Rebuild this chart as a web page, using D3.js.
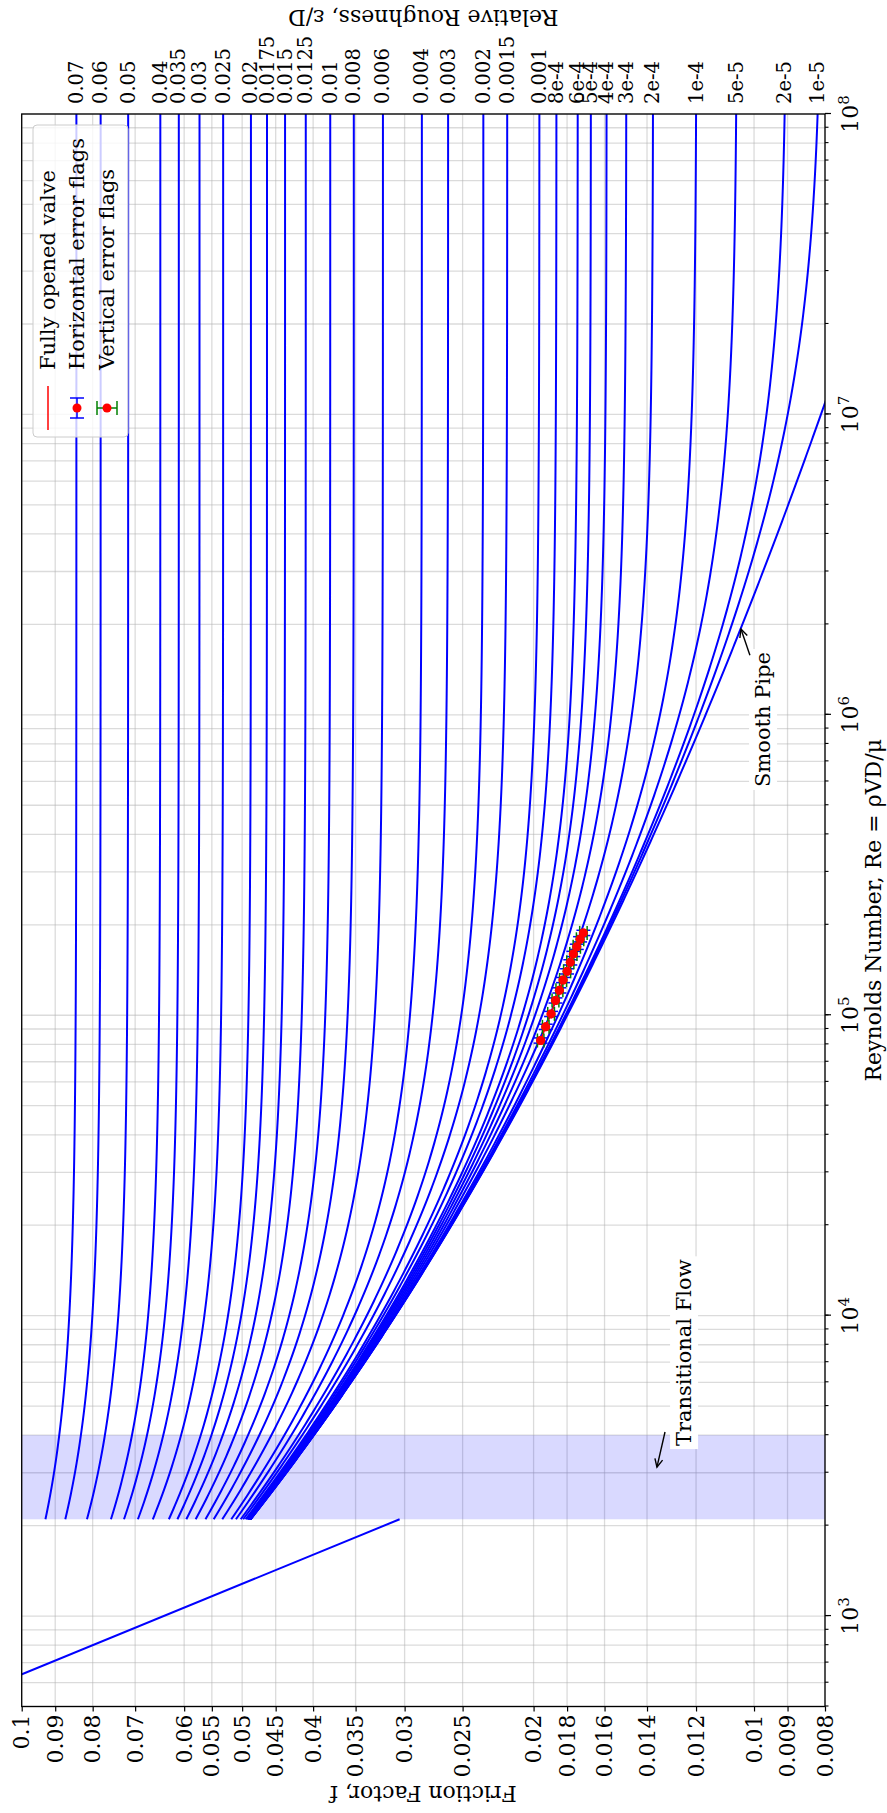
<!DOCTYPE html>
<html>
<head>
<meta charset="utf-8">
<script src="https://cdn.jsdelivr.net/npm/d3@7"></script>
<style>
  html, body { margin: 0; padding: 0; background: #fff; }
  svg { display: block; }
  text { font-family: "DejaVu Serif", serif; fill: #000; }
</style>
</head>
<body>
<svg id="chart" width="887" height="1813"></svg>
<script>
// Relative roughness (ε/D) of each Colebrook curve, and the labels shown beside them
const roughness = [0.07, 0.06, 0.05, 0.04, 0.035, 0.03, 0.025, 0.02, 0.0175, 0.015, 0.0125,
  0.01, 0.008, 0.006, 0.004, 0.003, 0.002, 0.0015, 0.001, 8e-4, 6e-4, 5e-4, 4e-4, 3e-4,
  2e-4, 1e-4, 5e-5, 2e-5, 1e-5];
const roughnessLabels = ["0.07", "0.06", "0.05", "0.04", "0.035", "0.03", "0.025", "0.02",
  "0.0175", "0.015", "0.0125", "0.01", "0.008", "0.006", "0.004", "0.003", "0.002", "0.0015",
  "0.001", "8e-4", "6e-4", "5e-4", "4e-4", "3e-4", "2e-4", "1e-4", "5e-5", "2e-5", "1e-5"];

// Friction factor axis ticks
const frictionTicks = [0.1, 0.09, 0.08, 0.07, 0.06, 0.055, 0.05, 0.045, 0.04, 0.035, 0.03,
  0.025, 0.02, 0.018, 0.016, 0.014, 0.012, 0.01, 0.009, 0.008];
const frictionTickLabels = ["0.1", "0.09", "0.08", "0.07", "0.06", "0.055", "0.05", "0.045",
  "0.04", "0.035", "0.03", "0.025", "0.02", "0.018", "0.016", "0.014", "0.012", "0.01",
  "0.009", "0.008"];

// Reynolds number decades and their exponents
const reynoldsMajor = [1e3, 1e4, 1e5, 1e6, 1e7, 1e8];
const reynoldsExponents = ["3", "4", "5", "6", "7", "8"];
const reynoldsDomain = [500, 1e8];
const frictionDomain = [0.008, 0.1];

// Flow regime limits
const laminarEnd = 2100;
const transitionEnd = 4000;

// Measured points for the fully opened valve
const testRe = [188000, 179000, 169000, 160000, 150000, 140000, 131000, 121000, 112000, 101000, 91500, 82400];
const testF = [0.01710, 0.01728, 0.01746, 0.01765, 0.01782, 0.01800, 0.01823, 0.01844, 0.01867, 0.01893, 0.01925, 0.01956];
const testReErr = [3800, 3600, 3400, 3200, 3000, 2800, 2600, 2400, 2200, 2000, 1850, 1650];
const testFErr = [0.0002, 0.0002, 0.0002, 0.0002, 0.0002, 0.0002, 0.0002, 0.0002, 0.0002, 0.0002, 0.0002, 0.0002];

// Annotations: target point and text anchor, in data units
const smoothNote = { text: "Smooth Pipe", target: [1.93e6, 0.01042], tail: [1.58e6, 0.01013], textAt: [5.75e5, 0.00972] };
const transitionNote = { text: "Transitional Flow", target: [3130, 0.01357], tail: [4100, 0.01323], textAt: [3680, 0.01246] };

// ---------------------------------------------------------------------------
const svg = d3.select("#chart");
svg.append("rect").attr("width", 887).attr("height", 1813).attr("fill", "#fff");

// The figure is laid out landscape (1813 x 887) and turned a quarter turn
const frame = svg.append("g").attr("transform", "translate(0,1813) rotate(-90)");

const plot = { left: 106.5, right: 1699, top: 21.7, bottom: 825 };
const x = d3.scaleLog().domain(reynoldsDomain).range([plot.left, plot.right]);
const y = d3.scaleLog().domain(frictionDomain).range([plot.bottom, plot.top]);

frame.append("defs").append("clipPath").attr("id", "plot-clip")
  .append("rect")
  .attr("x", plot.left).attr("y", plot.top)
  .attr("width", plot.right - plot.left).attr("height", plot.bottom - plot.top);

// Colebrook–White friction factor
function colebrook(eps, Re) {
  let inv = 8;
  for (let i = 0; i < 80; i++) inv = -2 * Math.log10(eps / 3.7 + 2.51 * inv / Re);
  return 1 / (inv * inv);
}

// Grid
const grid = frame.append("g");
const reGrid = x.ticks();
grid.selectAll("line.vx").data(reGrid).join("line")
  .attr("x1", d => x(d)).attr("x2", d => x(d))
  .attr("y1", plot.top).attr("y2", plot.bottom)
  .attr("stroke", "#b0b0b0").attr("stroke-opacity", 0.45).attr("stroke-width", 1.3);
grid.selectAll("line.hy").data(frictionTicks).join("line")
  .attr("x1", plot.left).attr("x2", plot.right)
  .attr("y1", d => y(d)).attr("y2", d => y(d))
  .attr("stroke", "#b0b0b0").attr("stroke-opacity", 0.45).attr("stroke-width", 1.3);

// Transitional band
frame.append("rect")
  .attr("x", x(laminarEnd)).attr("y", plot.top)
  .attr("width", x(transitionEnd) - x(laminarEnd)).attr("height", plot.bottom - plot.top)
  .attr("fill", "#0000ff").attr("fill-opacity", 0.15);

const curves = frame.append("g").attr("clip-path", "url(#plot-clip)");
const line = d3.line().x(d => x(d[0])).y(d => y(d[1]));

// Laminar line f = 64/Re
const laminarRe = [reynoldsDomain[0], laminarEnd];
curves.append("path")
  .attr("d", line(laminarRe.map(r => [r, 64 / r])))
  .attr("fill", "none").attr("stroke", "#0000ff").attr("stroke-width", 2);

// Turbulent curves
const reSamples = d3.range(0, 401).map(i => laminarEnd * Math.pow(reynoldsDomain[1] / laminarEnd, i / 400));
[0].concat(roughness).forEach(eps => {
  curves.append("path")
    .attr("d", line(reSamples.map(r => [r, colebrook(eps, r)])))
    .attr("fill", "none").attr("stroke", "#0000ff").attr("stroke-width", 2);
});

// Measured data
const meas = frame.append("g");
const pts = testRe.map((r, i) => ({ re: r, f: testF[i], re_e: testReErr[i], f_e: testFErr[i] }));
meas.append("path")
  .attr("d", line(pts.map(p => [p.re, p.f])))
  .attr("fill", "none").attr("stroke", "#ff0000").attr("stroke-width", 1.5);

const cap = 7;
const dotR = 4.5;
pts.forEach(p => {
  const cy = y(p.f);
  const x0 = x(p.re - p.re_e), x1 = x(p.re + p.re_e);
  meas.append("line").attr("x1", x0).attr("x2", x1).attr("y1", cy).attr("y2", cy).attr("stroke", "#0000ff").attr("stroke-width", 1.5);
  [x0, x1].forEach(v => meas.append("line").attr("x1", v).attr("x2", v).attr("y1", cy - cap).attr("y2", cy + cap).attr("stroke", "#0000ff").attr("stroke-width", 1.5));
});
pts.forEach(p => meas.append("circle").attr("cx", x(p.re)).attr("cy", y(p.f)).attr("r", dotR).attr("fill", "#ff0000"));
pts.forEach(p => {
  const cx = x(p.re);
  const y0 = y(p.f + p.f_e), y1 = y(p.f - p.f_e);
  meas.append("line").attr("x1", cx).attr("x2", cx).attr("y1", y0).attr("y2", y1).attr("stroke", "#008000").attr("stroke-width", 1.5);
  [y0, y1].forEach(v => meas.append("line").attr("x1", cx - cap).attr("x2", cx + cap).attr("y1", v).attr("y2", v).attr("stroke", "#008000").attr("stroke-width", 1.5));
});
pts.forEach(p => meas.append("circle").attr("cx", x(p.re)).attr("cy", y(p.f)).attr("r", dotR).attr("fill", "#ff0000"));

// Annotations
function annotate(note) {
  const g = frame.append("g");
  const t = g.append("text")
    .attr("x", x(note.textAt[0])).attr("y", y(note.textAt[1]))
    .attr("dominant-baseline", "central")
    .attr("font-size", 21).text(note.text);
  const bb = t.node().getBBox();
  g.insert("rect", "text")
    .attr("x", bb.x - 3).attr("y", bb.y - 2).attr("width", bb.width + 6).attr("height", bb.height + 4)
    .attr("fill", "#fff");
  const tx = x(note.tail[0]), ty = y(note.tail[1]);
  const hx = x(note.target[0]), hy = y(note.target[1]);
  g.append("line").attr("x1", tx).attr("y1", ty).attr("x2", hx).attr("y2", hy)
    .attr("stroke", "#000").attr("stroke-width", 1.4);
  const ang = Math.atan2(hy - ty, hx - tx);
  const L = 9, spread = 0.45;
  const pth = `M${hx - L * Math.cos(ang - spread)},${hy - L * Math.sin(ang - spread)}L${hx},${hy}L${hx - L * Math.cos(ang + spread)},${hy - L * Math.sin(ang + spread)}`;
  g.append("path").attr("d", pth).attr("fill", "none").attr("stroke", "#000").attr("stroke-width", 1.4);
}
annotate(smoothNote);
annotate(transitionNote);

// Axes: Reynolds number (minor and major ticks)
frame.append("g").attr("transform", `translate(0,${plot.bottom})`)
  .call(d3.axisBottom(x).tickValues(reGrid).tickSize(3.5).tickFormat(""))
  .call(g => g.select(".domain").remove())
  .call(g => g.selectAll("line").attr("stroke-width", 1.1));
frame.append("g").attr("transform", `translate(0,${plot.bottom})`)
  .call(d3.axisBottom(x).tickValues(reynoldsMajor).tickSize(6).tickFormat(""))
  .call(g => g.select(".domain").remove())
  .call(g => g.selectAll("line").attr("stroke-width", 1.2));

const reLabels = frame.append("g");
reynoldsMajor.forEach((v, i) => {
  const t = reLabels.append("text")
    .attr("x", x(v)).attr("y", 858)
    .attr("text-anchor", "middle").attr("font-size", 22);
  t.append("tspan").text("10");
  t.append("tspan").attr("dy", -9).attr("font-size", 15).text(reynoldsExponents[i]);
});

// Axis: friction factor
frame.append("g").attr("transform", `translate(${plot.left},0)`)
  .call(d3.axisLeft(y).tickValues(frictionTicks).tickSize(5).tickPadding(3)
    .tickFormat((d, i) => frictionTickLabels[i]))
  .call(g => g.select(".domain").remove())
  .call(g => g.selectAll("line").attr("stroke-width", 1.2))
  .call(g => g.selectAll("text").attr("font-size", 22).attr("font-family", "DejaVu Serif"));

// Roughness labels on the far side
const rLab = frame.append("g");
roughness.forEach((eps, i) => {
  rLab.append("text")
    .attr("x", plot.right + 10).attr("y", y(colebrook(eps, reynoldsDomain[1])))
    .attr("dominant-baseline", "central")
    .attr("font-size", 19.5).text(roughnessLabels[i]);
});

// Frame
frame.append("rect")
  .attr("x", plot.left).attr("y", plot.top)
  .attr("width", plot.right - plot.left).attr("height", plot.bottom - plot.top)
  .attr("fill", "none").attr("stroke", "#000").attr("stroke-width", 1.3);

// Axis titles
frame.append("text")
  .attr("x", (plot.left + plot.right) / 2).attr("y", 881)
  .attr("text-anchor", "middle").attr("font-size", 22)
  .text("Reynolds Number, Re = ρVD/μ");
frame.append("text")
  .attr("transform", `translate(20,${(plot.top + plot.bottom) / 2}) rotate(-90)`)
  .attr("text-anchor", "middle").attr("dominant-baseline", "central").attr("font-size", 22)
  .text("Friction Factor, f");
frame.append("text")
  .attr("transform", `translate(1796,${(plot.top + plot.bottom) / 2}) rotate(-90)`)
  .attr("text-anchor", "middle").attr("dominant-baseline", "central").attr("font-size", 22)
  .text("Relative Roughness, ε/D");

// Legend
const lg = frame.append("g");
lg.append("rect")
  .attr("x", 1376).attr("y", 33).attr("width", 312).attr("height", 95).attr("rx", 4)
  .attr("fill", "#fff").attr("fill-opacity", 0.8).attr("stroke", "#cccccc").attr("stroke-width", 1);
const legendItems = ["Fully opened valve", "Horizontal error flags", "Vertical error flags"];
const rowY = [48, 77, 107];
const hx = 1405;
lg.append("line").attr("x1", 1383).attr("x2", 1427).attr("y1", rowY[0]).attr("y2", rowY[0])
  .attr("stroke", "#ff0000").attr("stroke-width", 1.5);
lg.append("line").attr("x1", hx - 10).attr("x2", hx + 10).attr("y1", rowY[1]).attr("y2", rowY[1])
  .attr("stroke", "#0000ff").attr("stroke-width", 1.5);
[hx - 10, hx + 10].forEach(v => lg.append("line").attr("x1", v).attr("x2", v)
  .attr("y1", rowY[1] - cap).attr("y2", rowY[1] + cap).attr("stroke", "#0000ff").attr("stroke-width", 1.5));
lg.append("circle").attr("cx", hx).attr("cy", rowY[1]).attr("r", dotR).attr("fill", "#ff0000");
lg.append("line").attr("x1", hx).attr("x2", hx).attr("y1", rowY[2] - 10).attr("y2", rowY[2] + 10)
  .attr("stroke", "#008000").attr("stroke-width", 1.5);
[rowY[2] - 10, rowY[2] + 10].forEach(v => lg.append("line").attr("x1", hx - cap).attr("x2", hx + cap)
  .attr("y1", v).attr("y2", v).attr("stroke", "#008000").attr("stroke-width", 1.5));
lg.append("circle").attr("cx", hx).attr("cy", rowY[2]).attr("r", dotR).attr("fill", "#ff0000");
legendItems.forEach((s, i) => {
  lg.append("text").attr("x", 1443).attr("y", rowY[i])
    .attr("dominant-baseline", "central").attr("font-size", 21).text(s);
});
</script>
</body>
</html>
